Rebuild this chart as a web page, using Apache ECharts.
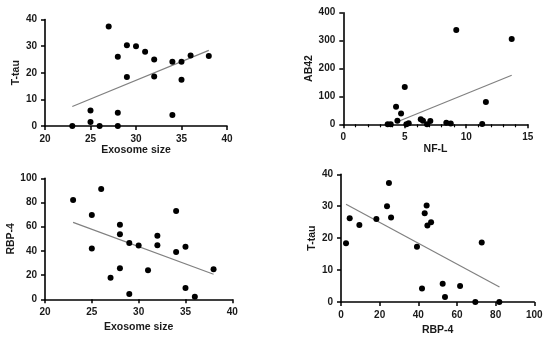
<!DOCTYPE html>
<html>
<head>
<meta charset="utf-8">
<script src="https://cdn.jsdelivr.net/npm/echarts@6/dist/echarts.min.js"></script>
<style>html,body{margin:0;padding:0;background:#fff}#c{width:550px;height:339px}</style>
</head>
<body>
<div id="c"></div>
<script>
// Panel 1: T-tau vs Exosome size
const exoSize1 = [23,25,25,26,27,28,28,28,29,29,30,31,32,32,34,34,35,35,36,38];
const ttau1 = [0,5.8,1.5,0,37.4,26,5,0,30.3,18.4,30,27.9,25,18.6,24.1,4.1,24.1,17.4,26.5,26.3];
const fit1 = [[23,7.3],[38,28.4]];
// Panel 2: AB42 vs NF-L
const nfl2 = [3.61,3.86,4.29,4.4,4.7,5.0,5.13,5.32,6.3,6.48,6.81,7.08,8.38,8.74,9.19,11.3,11.6,13.7];
const ab42 = [0,0,63,13,39,134,0,3.6,18,13,0,12,6,3,338,1,80,306];
const fit2 = [[4.4,9],[13.7,176]];
// Panel 3: RBP-4 vs Exosome size
const exoSize3 = [23,25,25,26,27,28,28,28,29,29,30,31,32,32,34,34,35,35,36,38];
const rbp3 = [82.1,69.7,41.9,91.2,17.9,61.7,53.7,25.6,46.6,4.4,44.4,24,52.6,44.6,73,39.1,43.5,9.4,2.2,24.8];
const fit3 = [[23,63.6],[38,20.7]];
// Panel 4: T-tau vs RBP-4
const rbp4 = [2.6,4.5,9.5,18.3,23.8,24.8,25.9,39.3,41.9,43.3,44.3,44.7,46.6,52.6,53.8,61.6,69.5,72.8,81.9];
const ttau4 = [18.4,26.2,24.1,26,30,37.3,26.5,17.3,4.2,27.8,30.2,24,25,5.7,1.6,5,0,18.6,0];
const fit4 = [[2.6,30.6],[82,4.7]];

const panels = [
  {xs: exoSize1, ys: ttau1, fit: fit1, xName:'Exosome size', yName:'T-tau', xr:[20,40,5], yr:[0,40,10],
   grid:{left:45, top:19.5, width:182, height:106.5}, xGap:18, yGap:14, minor:false},
  {xs: nfl2, ys: ab42, fit: fit2, xName:'NF-L', yName:'AB42', xr:[0,15,5], yr:[0,400,100],
   grid:{left:343.3, top:12.7, width:184.4, height:111.6}, xGap:15, yGap:29, minor:true},
  {xs: exoSize3, ys: rbp3, fit: fit3, xName:'Exosome size', yName:'RBP-4', xr:[20,40,5], yr:[0,100,20],
   grid:{left:45, top:178.3, width:187.3, height:121}, xGap:22, yGap:25, minor:false},
  {xs: rbp4, ys: ttau4, fit: fit4, xName:'RBP-4', yName:'T-tau', xr:[0,100,20], yr:[0,40,10],
   grid:{left:341, top:174.3, width:193.3, height:127.7}, xGap:23, yGap:20, minor:false}
];

const font = 'Liberation Sans, Arial, sans-serif';
function axisCommon() {
  return {
    axisLine:{show:true, onZero:false, lineStyle:{color:'#000000', width:1.6, opacity:1}},
    axisTick:{show:true, inside:false, length:4, lineStyle:{color:'#000000', width:1.5, opacity:1}},
    axisLabel:{show:true, color:'#1a1a1a', fontFamily:font, fontWeight:'bold', fontSize:10, margin:8},
    splitLine:{show:false},
    nameLocation:'middle',
    nameTextStyle:{color:'#1a1a1a', fontFamily:font, fontWeight:'bold', fontSize:10.5}
  };
}

const option = {
  animation:false,
  backgroundColor:'#fff',
  grid: panels.map(p => Object.assign({}, p.grid)),
  xAxis: panels.map((p,i) => Object.assign(axisCommon(), {
    type:'value', gridIndex:i, min:p.xr[0], max:p.xr[1], interval:p.xr[2],
    name:p.xName, nameGap:p.xGap,
    minorTick:{show:p.minor, splitNumber:5, length:3, lineStyle:{color:'#000000', width:1.2}}
  })),
  yAxis: panels.map((p,i) => Object.assign(axisCommon(), {
    type:'value', gridIndex:i, min:p.yr[0], max:p.yr[1], interval:p.yr[2],
    name:p.yName, nameGap:p.yGap, nameRotate:90
  })),
  series: []
};
panels.forEach((p,i) => {
  option.series.push({
    type:'line', xAxisIndex:i, yAxisIndex:i, data:p.fit, symbol:'none',
    lineStyle:{color:'#808080', width:1.2}, z:1
  });
  option.series.push({
    type:'scatter', xAxisIndex:i, yAxisIndex:i,
    data:p.xs.map((x,k)=>[x,p.ys[k]]), symbolSize:6,
    itemStyle:{color:'#000000', opacity:1}, z:3
  });
});
const chart = echarts.init(document.getElementById('c'), null, {renderer:'canvas'});
chart.setOption(option);
</script>
</body>
</html>
